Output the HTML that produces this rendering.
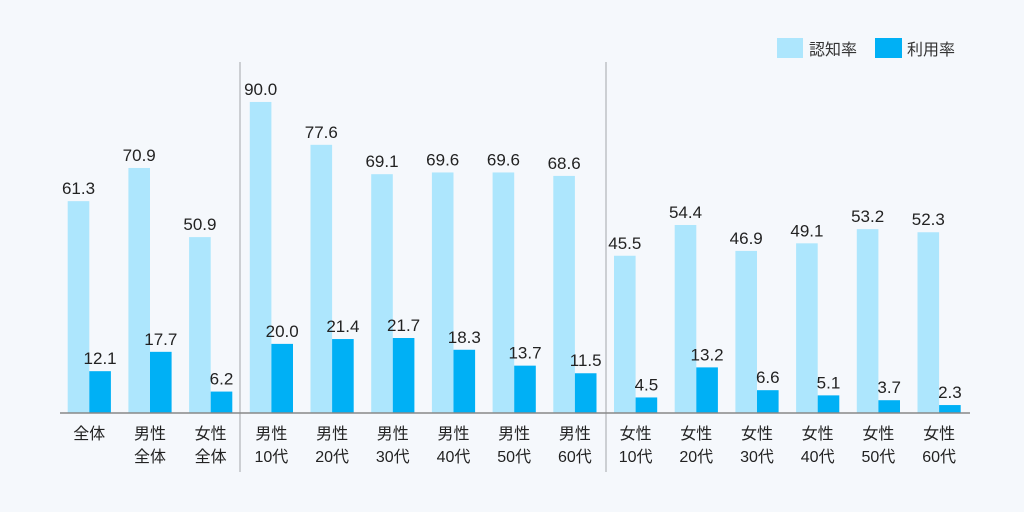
<!DOCTYPE html>
<html><head><meta charset="utf-8"><style>
html,body{margin:0;padding:0;background:#f5f8fc;}
svg{display:block;font-family:"Liberation Sans","Noto Sans CJK JP",sans-serif;}
text{font-size:17px;fill:#222;text-anchor:middle;}
text.l{font-size:16px;}
.a{fill:#ade6fd}.b{fill:#00b0f5}
</style></head><body>
<svg width="1024" height="512" viewBox="0 0 1024 512">
<rect width="1024" height="512" fill="#f5f8fc"/>
<rect x="777" y="38" width="26" height="20" fill="#ade6fd"/>
<text x="809" y="55" style="font-size:16px;fill:#333;text-anchor:start">認知率</text>
<rect x="875" y="38" width="27" height="20" fill="#00b0f5"/>
<text x="907" y="55" style="font-size:16px;fill:#333;text-anchor:start">利用率</text>
<line x1="240" y1="62" x2="240" y2="472" stroke="#b0b4b8" stroke-width="1.2"/>
<line x1="606" y1="62" x2="606" y2="472" stroke="#b0b4b8" stroke-width="1.2"/>

<g transform="translate(67.7,0)"><rect class="a" x="0" y="201.15" width="21.6" height="211.85"/><rect class="b" x="21.6" y="371.18" width="21.6" height="41.82"/><text x="10.8" y="194">61.3</text><text x="32.4" y="364">12.1</text><text class="l" x="21.6" y="439">全体</text></g>
<g transform="translate(128.4,0)"><rect class="a" x="0" y="167.97" width="21.6" height="245.03"/><rect class="b" x="21.6" y="351.83" width="21.6" height="61.17"/><text x="10.8" y="161">70.9</text><text x="32.4" y="345">17.7</text><text class="l" x="21.6" y="439">男性</text><text class="l" x="21.6" y="462">全体</text></g>
<g transform="translate(189.1,0)"><rect class="a" x="0" y="237.09" width="21.6" height="175.91"/><rect class="b" x="21.6" y="391.57" width="21.6" height="21.43"/><text x="10.8" y="230">50.9</text><text x="32.4" y="384.5">6.2</text><text class="l" x="21.6" y="439">女性</text><text class="l" x="21.6" y="462">全体</text></g>
<g transform="translate(249.8,0)"><rect class="a" x="0" y="101.96" width="21.6" height="311.04"/><rect class="b" x="21.6" y="343.88" width="21.6" height="69.12"/><text x="10.8" y="95">90.0</text><text x="32.4" y="337">20.0</text><text class="l" x="21.6" y="439">男性</text><text class="l" x="21.6" y="462">10代</text></g>
<g transform="translate(310.5,0)"><rect class="a" x="0" y="144.81" width="21.6" height="268.19"/><rect class="b" x="21.6" y="339.04" width="21.6" height="73.96"/><text x="10.8" y="138">77.6</text><text x="32.4" y="332">21.4</text><text class="l" x="21.6" y="439">男性</text><text class="l" x="21.6" y="462">20代</text></g>
<g transform="translate(371.2,0)"><rect class="a" x="0" y="174.19" width="21.6" height="238.81"/><rect class="b" x="21.6" y="338" width="21.6" height="75"/><text x="10.8" y="167">69.1</text><text x="32.4" y="331">21.7</text><text class="l" x="21.6" y="439">男性</text><text class="l" x="21.6" y="462">30代</text></g>
<g transform="translate(431.9,0)"><rect class="a" x="0" y="172.46" width="21.6" height="240.54"/><rect class="b" x="21.6" y="349.76" width="21.6" height="63.24"/><text x="10.8" y="165.5">69.6</text><text x="32.4" y="343">18.3</text><text class="l" x="21.6" y="439">男性</text><text class="l" x="21.6" y="462">40代</text></g>
<g transform="translate(492.6,0)"><rect class="a" x="0" y="172.46" width="21.6" height="240.54"/><rect class="b" x="21.6" y="365.65" width="21.6" height="47.35"/><text x="10.8" y="165.5">69.6</text><text x="32.4" y="358.5">13.7</text><text class="l" x="21.6" y="439">男性</text><text class="l" x="21.6" y="462">50代</text></g>
<g transform="translate(553.3,0)"><rect class="a" x="0" y="175.92" width="21.6" height="237.08"/><rect class="b" x="21.6" y="373.26" width="21.6" height="39.74"/><text x="10.8" y="169">68.6</text><text x="32.4" y="366">11.5</text><text class="l" x="21.6" y="439">男性</text><text class="l" x="21.6" y="462">60代</text></g>
<g transform="translate(614,0)"><rect class="a" x="0" y="255.75" width="21.6" height="157.25"/><rect class="b" x="21.6" y="397.45" width="21.6" height="15.55"/><text x="10.8" y="249">45.5</text><text x="32.4" y="390.5">4.5</text><text class="l" x="21.6" y="439">女性</text><text class="l" x="21.6" y="462">10代</text></g>
<g transform="translate(674.7,0)"><rect class="a" x="0" y="224.99" width="21.6" height="188.01"/><rect class="b" x="21.6" y="367.38" width="21.6" height="45.62"/><text x="10.8" y="218">54.4</text><text x="32.4" y="360.5">13.2</text><text class="l" x="21.6" y="439">女性</text><text class="l" x="21.6" y="462">20代</text></g>
<g transform="translate(735.4,0)"><rect class="a" x="0" y="250.91" width="21.6" height="162.09"/><rect class="b" x="21.6" y="390.19" width="21.6" height="22.81"/><text x="10.8" y="244">46.9</text><text x="32.4" y="383">6.6</text><text class="l" x="21.6" y="439">女性</text><text class="l" x="21.6" y="462">30代</text></g>
<g transform="translate(796.1,0)"><rect class="a" x="0" y="243.31" width="21.6" height="169.69"/><rect class="b" x="21.6" y="395.37" width="21.6" height="17.63"/><text x="10.8" y="236.5">49.1</text><text x="32.4" y="388.5">5.1</text><text class="l" x="21.6" y="439">女性</text><text class="l" x="21.6" y="462">40代</text></g>
<g transform="translate(856.8,0)"><rect class="a" x="0" y="229.14" width="21.6" height="183.86"/><rect class="b" x="21.6" y="400.21" width="21.6" height="12.79"/><text x="10.8" y="222">53.2</text><text x="32.4" y="393">3.7</text><text class="l" x="21.6" y="439">女性</text><text class="l" x="21.6" y="462">50代</text></g>
<g transform="translate(917.5,0)"><rect class="a" x="0" y="232.25" width="21.6" height="180.75"/><rect class="b" x="21.6" y="405.05" width="21.6" height="7.95"/><text x="10.8" y="225">52.3</text><text x="32.4" y="398">2.3</text><text class="l" x="21.6" y="439">女性</text><text class="l" x="21.6" y="462">60代</text></g>

<line x1="60" y1="413" x2="970" y2="413" stroke="#888" stroke-width="1.5"/>
</svg>
</body></html>
